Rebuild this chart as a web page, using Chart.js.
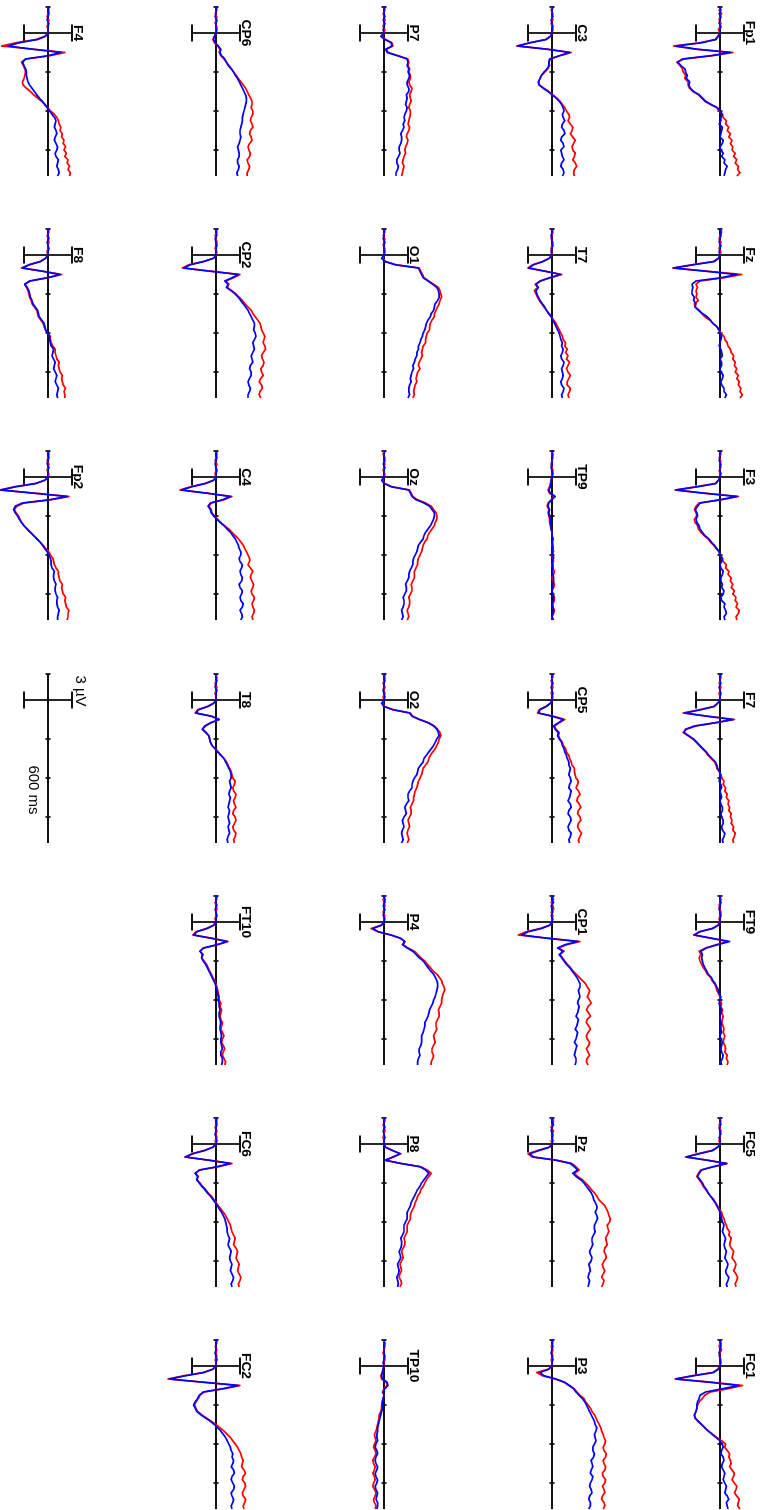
<!DOCTYPE html>
<html>
<head>
<meta charset="utf-8">
<title>ERP topography</title>
<script src="https://cdn.jsdelivr.net/npm/chart.js@4.4.1/dist/chart.umd.min.js"></script>
<style>
  html, body { margin: 0; padding: 0; background: #fff; width: 771px; height: 1510px; overflow: hidden; }
  /* the whole montage is laid out landscape and turned a quarter clockwise */
  #montage { position: absolute; left: 0; top: 0; width: 1510px; height: 771px;
             transform-origin: 0 0; transform: translate(771px, 0) rotate(90deg); }
  #montage canvas { position: absolute; }
</style>
</head>
<body>
<div id="montage"></div>
<script>
// sample times (ms) shared by every trace
const timesMs = [-200,-175,-150,-125,-100,-75,-50,-25,0,25,50,75,100,125,150,175,200,225,250,275,300,
                 325,350,375,400,425,450,475,500,525,550,575,600,625,650,675,700,
                 725,750,775,800,825,850,875,900,925,950,975,1000,1025,1050,1075,1100];
const axisStartMs = -200;
const axisEndMs = 1100;
const timeTicks = [300, 600, 900];
const scaleBarUv = 3;
const scaleTimeMs = 600;

// averaged traces in µV: *Red = condition 1, *Blue = condition 2
const fp1Red  = [0.1,-0.1,0.2,0.0,-0.1,0.1,0.0,-0.2,0.0, -0.3,-0.6,-2.5,-5.8,-3.0,1.6,-1.0,-4.5,-5.4,-5.0,-4.7,-4.6,
  -4.3,-4.4,-4.0,-4.0,-3.8,-3.4,-2.7,-2.3,-1.9,-1.2,-0.4,-0.1,0.3,0.4,0.8,0.7,1.1,0.9,1.3,1.1,1.5,1.3,1.6,1.5,1.9,1.7,2.1,1.9,2.3,2.2,2.5,2.1];
const fp1Blue = [0.0,0.1,-0.1,0.1,0.0,-0.1,0.1,0.0,0.0, -0.2,-0.5,-2.3,-5.5,-2.8,1.3,-1.2,-4.7,-5.3,-4.9,-4.4,-4.3,
  -4.1,-4.2,-3.8,-3.9,-3.7,-3.3,-2.6,-2.2,-1.8,-1.1,-0.3,0.0,0.3,0.1,0.1,-0.1,0.3,0.2,0.1,0.0,0.4,0.3,0.0,0.1,0.4,0.2,0.6,0.5,0.9,0.7,0.6,0.5];
const fzRed   = [0.1,0.2,0.0,-0.1,0.1,0.0,-0.1,0.1,0.0, -0.2,-0.8,-3.5,-5.9,-1.5,2.7,0.5,-2.5,-3.0,-2.8,-3.0,-2.9,
  -3.0,-2.7,-3.2,-3.1,-2.6,-2.3,-1.9,-1.3,-0.9,-0.4,-0.2,0.1,0.5,0.6,0.9,1.0,1.3,1.4,1.7,1.6,1.9,1.8,2.1,1.9,2.3,2.1,2.4,2.3,2.6,2.5,2.8,2.5];
const fzBlue  = [0.0,0.1,0.1,0.0,-0.1,0.1,0.0,-0.1,0.0, -0.2,-0.7,-3.3,-5.8,-1.8,2.1,0.1,-3.0,-3.5,-3.4,-3.5,-3.5,
  -3.2,-3.3,-3.0,-3.1,-2.7,-2.2,-1.6,-1.2,-0.9,-0.4,-0.1,0.0,0.2,0.1,0.0,-0.1,0.1,0.2,0.3,0.0,0.2,0.2,0.0,0.1,0.4,0.3,0.1,0.2,0.5,0.5,0.8,0.6];
const f3Red   = [0.0,0.1,-0.1,0.1,0.0,0.1,-0.1,0.0,0.0, -0.2,-0.6,-3.0,-5.6,-1.8,2.3,0.2,-2.6,-3.0,-3.2,-3.0,-2.9,
  -3.2,-3.1,-2.8,-2.7,-2.4,-2.0,-1.5,-1.2,-0.8,-0.5,-0.1,0.0,0.3,0.4,0.8,0.7,1.1,1.0,1.4,1.3,1.6,1.4,1.8,1.6,2.0,1.9,2.2,2.0,2.4,2.3,2.0,2.1];
const f3Blue  = [0.1,0.0,0.0,-0.1,0.1,0.0,0.0,0.1,0.0, -0.2,-0.5,-2.8,-5.5,-2.0,2.1,0.0,-2.5,-2.8,-3.1,-2.9,-2.8,
  -3.0,-2.9,-2.6,-2.5,-2.2,-1.9,-1.4,-1.1,-0.7,-0.4,-0.1,0.0,0.3,0.2,0.0,0.1,0.4,0.3,0.1,0.1,0.3,0.2,0.5,0.4,0.1,0.2,0.6,0.5,0.7,0.8,0.5,0.6];
const f7Red   = [0.0,0.1,0.0,-0.1,0.1,0.0,-0.1,0.0,0.0, -0.3,-0.8,-2.6,-4.6,-1.5,1.8,-0.5,-3.0,-4.2,-4.6,-4.0,-3.4,
  -3.0,-2.6,-2.2,-1.8,-1.5,-1.1,-0.7,-0.5,-0.4,-0.1,0.1,0.2,0.5,0.4,0.7,0.6,0.9,0.8,1.1,1.0,1.2,1.1,1.4,1.3,1.5,1.4,1.7,1.6,1.9,1.8,1.6,1.7];
const f7Blue  = [0.1,0.0,0.0,0.1,-0.1,0.0,0.1,0.0,0.0, -0.3,-0.7,-2.4,-4.4,-1.6,1.6,-0.6,-3.2,-4.3,-4.5,-3.9,-3.3,
  -2.9,-2.5,-2.1,-1.7,-1.4,-1.0,-0.6,-0.4,-0.3,-0.1,0.1,0.0,-0.1,0.1,0.2,0.0,0.1,0.2,0.0,0.1,0.3,0.3,0.1,0.2,0.4,0.4,0.2,0.3,0.6,0.5,0.3,0.4];
const ft9Red  = [0.0,0.1,0.0,-0.1,0.0,0.1,0.0,-0.1,0.0, -0.3,-1.0,-2.5,-3.3,-1.2,1.0,-0.5,-1.8,-2.6,-2.4,-2.6,-2.5,
  -2.3,-2.1,-1.8,-1.6,-1.2,-1.0,-0.7,-0.5,-0.4,-0.2,0.0,0.0,0.2,0.1,0.3,0.2,0.4,0.3,0.2,0.4,0.5,0.4,0.6,0.5,0.4,0.6,0.7,0.6,0.9,0.8,1.0,0.9];
const ft9Blue = [0.0,0.0,0.1,0.0,-0.1,0.0,0.1,0.0,0.0, -0.2,-0.9,-2.6,-3.2,-1.0,1.2,-0.3,-1.7,-2.4,-2.2,-2.3,-2.2,
  -2.1,-1.9,-1.7,-1.5,-1.1,-0.9,-0.6,-0.4,-0.2,-0.1,0.1,0.0,-0.1,0.0,0.2,0.1,0.0,0.0,0.2,0.1,0.1,0.2,0.0,0.1,0.3,0.2,0.1,0.2,0.4,0.3,0.1,0.2];
const fc5Red  = [0.0,0.1,-0.1,0.0,0.1,0.0,0.0,-0.1,0.0, -0.3,-1.0,-2.8,-4.3,-1.5,0.9,-0.8,-2.4,-2.7,-2.9,-2.6,-2.3,
  -2.1,-1.8,-1.5,-1.2,-0.8,-0.6,-0.3,-0.1,0.2,0.3,0.5,0.6,0.8,0.9,1.2,1.1,1.4,1.3,1.2,1.4,1.7,1.6,1.5,1.8,2.0,1.9,1.7,2.0,2.2,2.1,1.9,2.0];
const fc5Blue = [0.0,0.0,0.1,-0.1,0.0,0.1,-0.1,0.0,0.0, -0.3,-0.9,-2.6,-4.2,-1.6,0.8,-0.9,-2.3,-2.6,-2.8,-2.5,-2.2,
  -2.0,-1.7,-1.5,-1.2,-0.9,-0.6,-0.4,-0.2,0.0,0.1,0.2,0.3,0.5,0.4,0.3,0.5,0.7,0.6,0.5,0.6,0.8,0.7,0.6,0.8,1.0,0.9,0.7,0.8,1.1,1.0,0.8,0.9];
const fc1Red  = [0.1,0.0,-0.1,0.2,0.0,-0.1,0.1,0.0,0.0, -0.3,-0.9,-3.5,-5.6,-1.0,2.8,1.0,-1.2,-1.9,-2.2,-2.6,-2.8,
  -2.9,-3.0,-3.2,-3.1,-2.8,-2.3,-1.9,-1.4,-0.9,-0.4,0.2,0.7,0.6,0.9,1.2,1.1,1.3,1.4,1.2,1.5,1.8,1.7,1.5,1.8,2.1,2.0,1.8,2.1,2.4,2.3,2.2,2.5];
const fc1Blue = [0.0,0.1,0.1,0.0,-0.1,0.0,0.0,0.1,0.0, -0.2,-0.8,-3.3,-5.5,-1.3,2.4,0.3,-1.8,-2.5,-2.6,-2.8,-2.9,
  -2.9,-3.0,-3.2,-3.1,-2.7,-2.3,-1.9,-1.5,-1.0,-0.5,0.0,0.3,0.4,0.2,0.1,0.4,0.5,0.3,0.2,0.4,0.6,0.5,0.4,0.6,0.8,0.7,0.6,0.9,1.1,0.8,0.9,1.0];

const c3Red   = [0.0,-0.1,0.1,0.0,0.1,-0.1,0.0,0.1,0.0, -0.2,-0.8,-2.8,-4.4,-0.5,2.4,1.0,-0.2,-0.4,-0.3,-0.5,-0.9,
  -1.3,-1.5,-1.7,-1.6,-1.0,-0.4,0.1,0.6,1.0,1.3,1.6,1.8,2.1,2.2,2.0,2.3,2.6,2.5,2.3,2.6,2.9,2.7,2.5,2.6,2.9,2.8,2.6,2.9,3.1,2.8,2.7,2.8];
const c3Blue  = [0.1,0.0,0.0,0.1,-0.1,0.0,0.1,0.0,0.0, -0.2,-0.7,-2.7,-4.3,-0.6,2.2,0.9,-0.3,-0.4,-0.4,-0.6,-1.0,
  -1.3,-1.5,-1.7,-1.6,-1.1,-0.5,0.0,0.5,0.9,1.2,1.4,1.5,1.3,1.4,1.6,1.3,1.2,1.5,1.6,1.2,1.1,1.4,1.5,1.1,1.2,1.3,1.5,1.2,1.1,1.4,1.5,1.3];
const t7Red   = [0.0,0.1,0.0,-0.1,0.1,0.0,-0.1,0.0,0.0, -0.4,-1.2,-2.4,-3.0,-0.8,1.2,-0.2,-1.4,-2.1,-1.8,-2.2,-2.0,
  -1.8,-1.6,-1.3,-1.0,-0.7,-0.4,-0.1,0.2,0.5,0.7,0.9,1.1,1.3,1.4,1.7,1.6,1.9,1.7,2.0,1.8,2.2,2.0,1.8,2.0,2.3,2.1,1.9,1.9,2.3,2.2,2.0,2.1];
const t7Blue  = [0.1,0.0,-0.1,0.0,0.0,0.1,0.0,-0.1,0.0, -0.3,-1.1,-2.3,-2.9,-0.9,1.1,-0.3,-1.5,-2.0,-1.7,-2.0,-1.9,
  -1.7,-1.5,-1.2,-0.9,-0.7,-0.4,-0.1,0.1,0.3,0.5,0.7,0.9,1.0,1.1,1.3,1.2,1.4,1.3,1.1,1.2,1.5,1.4,1.2,1.3,1.4,1.3,1.1,1.2,1.5,1.4,1.2,1.3];
const tp9Red  = [0.0,0.0,0.1,0.0,-0.1,0.0,0.1,0.0,0.0, -0.1,-0.2,-0.3,-0.5,-0.3,0.3,-0.1,-0.5,-0.6,-0.4,-0.5,-0.4,
  -0.3,-0.3,-0.2,-0.1,0.0,0.0,0.1,0.1,0.0,0.1,0.2,0.0,0.1,0.2,0.0,0.1,0.3,0.2,0.0,0.1,0.3,0.2,0.0,0.1,0.3,0.3,0.1,0.1,0.3,0.2,0.0,0.1];
const tp9Blue = [0.0,0.1,0.0,0.0,0.0,-0.1,0.0,0.1,0.0, -0.1,-0.1,-0.2,-0.4,-0.2,0.4,0.0,-0.4,-0.5,-0.3,-0.4,-0.3,
  -0.2,-0.2,-0.1,-0.1,0.0,0.0,0.1,0.0,0.1,0.1,0.0,0.1,0.2,0.0,0.1,0.1,0.0,0.1,0.2,0.2,0.1,0.1,0.0,0.1,0.2,0.2,0.0,0.1,0.2,0.1,0.0,0.2];
const cp5Red  = [0.0,0.1,-0.1,0.0,0.1,0.0,-0.1,0.1,0.0, -0.2,-0.8,-1.6,-1.8,0.2,1.6,0.9,0.3,0.5,0.9,0.8,1.0,
  1.3,1.4,1.7,1.8,2.1,2.2,2.4,2.5,2.8,2.8,2.9,3.0,3.3,3.2,3.0,3.3,3.5,3.2,3.1,3.4,3.6,3.3,3.2,3.5,3.6,3.3,3.2,3.4,3.7,3.5,3.3,3.4];
const cp5Blue = [0.1,0.0,0.0,0.1,-0.1,0.0,0.1,0.0,0.0, -0.2,-0.7,-1.5,-1.7,0.0,1.4,0.8,0.2,0.4,0.8,0.7,0.9,
  1.2,1.3,1.5,1.6,1.8,1.9,2.1,2.1,2.3,2.2,2.1,2.3,2.4,2.2,2.1,2.4,2.3,2.2,2.0,2.3,2.4,2.1,2.0,2.3,2.4,2.2,2.0,2.1,2.4,2.3,2.1,2.2];
const cp1Red  = [0.0,0.2,-0.1,0.1,0.2,-0.1,0.1,0.0,0.0, -0.3,-1.5,-3.2,-4.2,-0.5,3.5,1.8,0.8,1.5,1.0,1.3,1.6,
  1.9,2.3,2.6,3.0,3.4,3.8,4.2,4.4,4.7,4.6,4.4,4.7,4.9,4.5,4.3,4.6,4.8,4.4,4.3,4.6,4.8,4.5,4.3,4.4,4.7,4.6,4.3,4.5,4.7,4.4,4.3,4.5];
const cp1Blue = [0.1,0.0,0.2,-0.1,0.0,0.1,-0.1,0.1,0.0, -0.3,-1.3,-3.0,-3.8,-0.6,3.2,1.6,0.7,1.4,0.9,1.2,1.5,
  1.8,2.2,2.5,2.8,3.1,3.3,3.5,3.5,3.3,3.4,3.5,3.3,3.2,3.4,3.3,3.2,3.0,3.3,3.2,3.1,2.9,3.2,3.1,3.0,2.8,3.1,3.0,2.9,2.8,3.0,3.0,2.9];
const pzRed   = [0.0,0.2,0.0,-0.1,0.2,0.0,0.1,-0.1,0.0, -0.4,-1.8,-3.0,-2.5,0.6,2.5,3.0,3.4,2.8,3.2,3.8,4.2,
  4.6,4.9,5.3,5.6,5.8,6.2,6.6,6.8,7.0,7.1,7.3,7.2,6.9,7.0,7.1,6.9,6.7,6.8,6.9,6.6,6.5,6.7,6.8,6.5,6.3,6.4,6.6,6.4,6.2,6.5,6.4,6.2];
const pzBlue  = [0.1,0.0,0.2,0.0,-0.1,0.1,0.0,0.1,0.0, -0.3,-1.6,-2.8,-2.3,0.5,2.3,2.8,3.2,2.6,3.0,3.6,4.0,
  4.3,4.6,4.9,5.1,5.2,5.4,5.6,5.6,5.4,5.6,5.7,5.5,5.3,5.3,5.4,5.2,5.0,5.0,5.1,4.9,4.7,4.8,5.0,4.9,4.6,4.7,4.8,4.6,4.5,4.7,4.6,4.5];
const p3Red   = [0.0,0.1,-0.1,0.1,0.0,0.1,-0.1,0.0,0.0, -0.5,-1.9,-1.2,0.4,1.5,2.1,2.8,3.1,3.5,4.0,4.2,4.5,
  4.8,5.0,5.3,5.5,5.7,5.9,6.1,6.2,6.4,6.5,6.7,6.6,6.4,6.5,6.8,6.7,6.4,6.5,6.7,6.6,6.3,6.4,6.7,6.6,6.3,6.5,6.6,6.3,6.2,6.5,6.6,6.4];
const p3Blue  = [0.1,0.0,0.1,0.0,-0.1,0.0,0.1,0.0,0.0, -0.4,-1.5,-1.0,0.5,1.6,2.2,2.7,3.0,3.4,3.8,4.1,4.3,
  4.5,4.7,4.9,5.1,5.3,5.4,5.6,5.5,5.3,5.4,5.5,5.3,5.1,5.1,5.3,5.2,4.9,5.0,5.1,4.9,4.8,5.1,5.0,4.8,4.7,4.9,5.0,4.7,4.6,4.8,4.8,4.6];

const p7Red   = [0.0,0.1,-0.1,0.0,0.1,0.0,-0.1,0.1,0.0, -0.3,0.2,1.0,1.1,0.3,0.5,1.8,3.0,3.1,3.0,3.2,3.1,
  3.3,3.3,3.1,3.2,3.5,3.4,3.2,3.3,3.4,3.2,3.1,3.3,3.3,3.2,3.1,3.0,3.2,3.1,2.9,2.8,3.0,2.9,2.7,2.6,2.7,2.5,2.4,2.3,2.5,2.4,2.3,2.2];
const p7Blue  = [0.1,0.0,0.0,0.1,-0.1,0.1,0.0,-0.1,0.0, -0.4,0.1,0.9,1.0,0.2,0.4,1.7,2.9,3.0,2.9,3.1,3.0,
  3.2,3.1,2.9,2.9,3.1,3.1,2.8,2.9,2.8,2.7,2.9,2.8,2.6,2.5,2.6,2.4,2.5,2.3,2.1,2.2,2.2,2.1,1.9,1.9,2.0,1.8,1.6,1.6,1.8,1.7,1.5,1.5];
const o1Red   = [0.0,0.1,-0.1,0.1,0.0,-0.1,0.1,0.0,0.0, -0.2,0.2,1.5,4.4,4.6,4.8,5.0,5.6,6.2,6.8,7.0,7.1,
  7.2,7.0,6.9,6.7,6.5,6.3,6.3,6.0,5.8,5.7,5.7,5.4,5.3,5.2,5.2,4.9,4.8,4.7,4.8,4.6,4.4,4.3,4.5,4.2,4.1,4.0,4.1,3.9,3.8,3.7,3.8,3.6];
const o1Blue  = [0.1,0.0,0.0,-0.1,0.1,0.0,0.0,0.1,0.0, -0.3,0.1,1.4,4.3,4.5,4.7,4.9,5.5,6.1,6.6,6.8,6.9,
  6.9,6.7,6.4,6.3,6.2,5.9,5.8,5.5,5.3,5.2,5.1,4.9,4.8,4.6,4.5,4.3,4.3,4.1,4.1,3.9,3.8,3.6,3.7,3.5,3.4,3.3,3.4,3.2,3.1,3.1,3.2,3.0];
const ozRed   = [0.0,-0.1,0.1,0.0,0.1,0.0,-0.1,0.1,0.0, -0.2,0.1,1.0,3.2,3.4,3.6,4.2,5.2,5.9,6.2,6.5,6.6,
  6.6,6.4,6.3,6.0,5.7,5.5,5.4,5.1,4.9,4.8,4.7,4.5,4.3,4.2,4.2,4.0,3.8,3.8,3.8,3.6,3.4,3.5,3.5,3.3,3.1,3.2,3.2,3.1,2.9,3.0,3.1,2.9];
const ozBlue  = [0.1,0.0,0.0,0.1,-0.1,0.1,0.0,0.0,0.0, -0.3,0.0,0.9,3.1,3.3,3.5,4.0,5.0,5.7,6.0,6.3,6.3,
  6.2,6.0,5.8,5.5,5.2,5.0,4.9,4.6,4.3,4.2,4.1,3.9,3.7,3.6,3.6,3.4,3.2,3.1,3.1,2.9,2.7,2.8,2.8,2.6,2.4,2.5,2.5,2.4,2.2,2.3,2.4,2.2];
const o2Red   = [0.0,0.1,0.0,-0.1,0.1,0.0,0.1,-0.1,0.0, -0.2,0.1,1.2,3.3,3.6,4.5,5.6,6.3,6.7,7.0,7.1,6.9,
  6.8,6.6,6.4,6.1,5.8,5.6,5.5,5.2,4.9,4.8,4.7,4.5,4.3,4.2,4.1,3.9,3.8,3.7,3.7,3.5,3.3,3.4,3.4,3.2,3.0,3.1,3.2,3.0,2.9,3.0,3.1,2.9];
const o2Blue  = [0.1,0.0,0.1,0.0,0.0,-0.1,0.0,0.1,0.0, -0.3,0.0,1.1,3.2,3.5,4.4,5.5,6.2,6.6,6.8,6.9,6.6,
  6.4,6.2,5.9,5.6,5.3,5.0,4.9,4.6,4.3,4.2,4.1,3.8,3.6,3.5,3.5,3.2,3.0,3.0,3.1,2.8,2.6,2.7,2.8,2.5,2.3,2.4,2.5,2.3,2.2,2.3,2.4,2.2];
const p4Red   = [0.1,-0.1,0.0,0.1,0.0,-0.1,0.1,0.0,0.0, -0.4,-1.6,-0.8,0.8,2.0,2.6,2.4,3.0,3.8,4.2,4.6,5.1,
  5.4,5.8,6.1,6.6,6.9,7.2,7.3,7.5,7.6,7.4,7.3,7.2,7.2,7.0,6.8,6.9,6.9,6.7,6.5,6.5,6.6,6.4,6.2,6.3,6.4,6.2,6.0,6.0,6.2,6.1,5.9,5.9];
const p4Blue  = [0.0,0.1,0.1,-0.1,0.1,0.0,-0.1,0.1,0.0, -0.3,-1.4,-0.7,0.9,2.1,2.6,2.3,2.9,3.6,4.0,4.4,4.9,
  5.2,5.5,5.8,6.2,6.4,6.6,6.7,6.7,6.6,6.5,6.4,6.2,6.1,5.9,5.7,5.6,5.5,5.3,5.1,5.1,5.0,4.9,4.7,4.7,4.7,4.6,4.4,4.4,4.5,4.3,4.2,4.2];
const p8Red   = [0.0,0.1,-0.1,0.0,0.1,0.0,-0.1,0.0,0.0, 0.2,1.0,2.1,1.2,0.2,2.2,4.6,5.4,5.9,5.6,5.3,5.1,
  4.9,4.6,4.5,4.2,4.1,3.9,3.8,3.6,3.4,3.3,3.3,3.1,2.9,2.9,2.9,2.7,2.5,2.6,2.6,2.4,2.2,2.3,2.4,2.2,2.0,2.1,2.2,2.0,1.9,2.1,2.2,2.0];
const p8Blue  = [0.1,0.0,0.0,0.1,-0.1,0.0,0.1,0.0,0.0, 0.2,1.1,2.0,1.1,0.1,2.1,4.5,5.2,5.6,5.3,5.0,4.7,
  4.5,4.2,4.0,3.8,3.6,3.4,3.3,3.1,2.9,2.9,2.9,2.7,2.5,2.5,2.5,2.3,2.1,2.2,2.2,2.1,1.9,2.0,2.1,1.9,1.7,1.8,1.9,1.8,1.6,1.7,1.8,1.7];
const tp10Red = [0.0,0.0,0.1,0.0,-0.1,0.0,0.1,0.0,0.0, -0.1,-0.2,-0.4,-0.3,0.3,0.4,0.0,-0.2,0.0,-0.1,-0.2,-0.3,
  -0.3,-0.4,-0.6,-0.6,-0.7,-0.8,-0.9,-1.0,-1.2,-1.1,-1.0,-1.2,-1.3,-1.1,-1.0,-1.2,-1.4,-1.3,-1.1,-1.2,-1.4,-1.2,-1.1,-1.3,-1.4,-1.2,-1.0,-1.1,-1.3,-1.2,-1.0,-1.1];
const tp10Blue= [0.0,0.1,0.0,0.0,0.0,0.1,0.0,-0.1,0.0, -0.1,-0.2,-0.3,-0.2,0.4,0.5,0.1,-0.1,0.0,-0.1,-0.2,-0.2,
  -0.2,-0.3,-0.4,-0.5,-0.6,-0.7,-0.8,-0.8,-0.9,-0.9,-0.8,-1.0,-1.1,-0.9,-0.8,-1.0,-1.1,-1.0,-0.8,-0.9,-1.1,-1.0,-0.8,-0.9,-1.1,-1.0,-0.8,-0.9,-1.0,-0.8,-0.8,-0.9];

const cp6Red  = [0.0,0.1,-0.1,0.1,0.0,-0.1,0.1,0.0,0.0, -0.2,-0.4,-0.2,0.2,0.5,0.4,0.6,1.0,1.3,1.5,1.9,2.2,
  2.5,2.8,3.1,3.4,3.7,3.9,4.1,4.3,4.5,4.5,4.4,4.6,4.6,4.4,4.3,4.5,4.6,4.3,4.2,4.4,4.5,4.2,4.0,4.1,4.3,4.2,3.9,4.0,4.2,4.1,3.9,3.9];
const cp6Blue = [0.1,0.0,0.0,-0.1,0.1,0.0,0.0,0.1,0.0, -0.2,-0.3,-0.1,0.3,0.6,0.5,0.7,1.1,1.3,1.6,1.9,2.2,
  2.4,2.7,2.9,3.1,3.3,3.5,3.7,3.8,3.8,3.7,3.6,3.5,3.4,3.3,3.3,3.2,3.1,3.0,3.0,3.1,3.0,2.9,2.7,2.8,2.9,2.9,2.7,2.7,2.9,2.8,2.6,2.7];
const cp2Red  = [0.0,0.1,-0.1,0.0,0.1,0.0,-0.1,0.1,0.0, -0.3,-1.6,-3.4,-4.2,-0.6,3.0,2.2,1.2,1.6,1.4,2.0,2.5,
  2.9,3.3,3.6,4.0,4.4,4.6,4.9,5.2,5.5,5.6,5.7,5.9,6.1,6.0,5.9,6.1,6.2,5.9,5.7,5.8,6.0,5.9,5.6,5.7,5.9,5.6,5.4,5.7,5.8,5.5,5.4,5.6];
const cp2Blue = [0.1,0.0,0.1,-0.1,0.0,0.1,0.0,0.0,0.0, -0.3,-1.5,-3.2,-4.0,-0.7,2.8,2.0,1.1,1.5,1.3,1.9,2.4,
  2.8,3.1,3.4,3.7,4.0,4.2,4.4,4.6,4.8,4.8,4.7,4.9,5.0,4.8,4.6,4.7,4.8,4.6,4.4,4.5,4.6,4.3,4.2,4.4,4.4,4.2,4.0,4.1,4.3,4.2,4.0,4.0];
const c4Red   = [0.0,0.1,0.0,-0.1,0.1,0.0,0.0,-0.1,0.0, -0.3,-1.4,-3.2,-4.5,-1.0,2.0,1.0,-0.6,-0.9,-0.6,-0.5,-0.2,
  0.2,0.6,1.1,1.6,2.0,2.4,2.8,3.1,3.4,3.6,3.8,4.0,4.2,4.2,4.0,4.3,4.6,4.4,4.3,4.5,4.7,4.6,4.4,4.5,4.8,4.7,4.5,4.6,4.8,4.7,4.5,4.6];
const c4Blue  = [0.1,0.0,0.1,0.0,-0.1,0.0,0.1,0.0,0.0, -0.3,-1.3,-3.0,-4.3,-1.1,1.8,0.8,-0.7,-1.0,-0.7,-0.6,-0.3,
  0.1,0.5,1.0,1.4,1.8,2.1,2.4,2.6,2.8,2.9,3.1,3.1,2.9,3.0,3.3,3.2,3.0,3.1,3.3,3.2,2.9,3.0,3.3,3.2,3.0,3.1,3.4,3.3,3.0,3.2,3.3,3.1];
const t8Red   = [0.0,0.1,0.0,-0.1,0.1,0.0,-0.1,0.0,0.0, -0.3,-1.1,-2.3,-2.6,-0.5,0.4,-0.6,-1.3,-1.7,-1.2,-0.9,-0.8,
  -0.7,-0.5,-0.1,0.3,0.6,1.0,1.3,1.5,1.7,1.9,2.0,2.1,2.4,2.3,2.1,2.2,2.5,2.4,2.2,2.3,2.5,2.2,2.1,2.4,2.5,2.3,2.1,2.2,2.5,2.4,2.2,2.3];
const t8Blue  = [0.0,0.0,0.1,0.0,-0.1,0.1,0.0,0.0,0.0, -0.3,-1.0,-2.2,-2.5,-0.6,0.4,-0.7,-1.4,-1.7,-1.3,-0.9,-0.8,
  -0.7,-0.5,-0.1,0.2,0.6,1.0,1.2,1.4,1.6,1.8,1.9,1.9,1.7,1.8,1.9,1.7,1.6,1.8,1.7,1.6,1.5,1.7,1.6,1.5,1.6,1.7,1.5,1.6,1.7,1.5,1.4,1.5];
const ft10Red = [0.0,0.1,-0.1,0.0,0.1,0.0,0.0,-0.1,0.0, -0.3,-1.2,-2.5,-2.9,-0.5,1.5,0.2,-1.5,-2.0,-1.6,-1.8,-1.5,
  -1.2,-1.0,-0.8,-0.6,-0.4,-0.2,0.0,0.1,0.2,0.3,0.4,0.4,0.6,0.5,0.7,0.6,0.5,0.6,0.8,0.7,0.6,0.8,1.0,0.8,0.7,0.9,1.1,0.9,0.8,1.0,1.2,1.1];
const ft10Blue= [0.1,0.0,0.0,0.1,-0.1,0.0,0.1,0.0,0.0, -0.3,-1.1,-2.4,-2.8,-0.6,1.4,0.1,-1.6,-2.0,-1.7,-1.8,-1.6,
  -1.3,-1.1,-0.9,-0.7,-0.5,-0.3,-0.1,0.0,0.1,0.2,0.3,0.3,0.4,0.4,0.5,0.4,0.4,0.5,0.6,0.5,0.5,0.6,0.7,0.6,0.6,0.7,0.8,0.6,0.6,0.8,0.8,0.7];
const fc6Red  = [0.0,0.1,0.0,-0.1,0.1,0.0,0.1,-0.1,0.0, -0.4,-1.5,-3.0,-3.9,-0.8,2.0,0.3,-2.0,-2.6,-2.2,-2.4,-2.0,
  -1.7,-1.3,-1.0,-0.6,-0.3,0.0,0.3,0.6,0.9,1.2,1.4,1.6,1.8,1.9,2.0,2.2,2.4,2.3,2.2,2.5,2.7,2.6,2.5,2.7,2.9,2.8,2.7,2.9,3.1,3.0,2.8,2.9];
const fc6Blue = [0.1,0.0,0.1,0.0,0.0,-0.1,0.0,0.1,0.0, -0.4,-1.4,-2.9,-3.8,-0.9,1.8,0.1,-2.1,-2.6,-2.3,-2.4,-2.1,
  -1.8,-1.4,-1.1,-0.7,-0.4,-0.1,0.2,0.4,0.7,0.9,1.1,1.2,1.3,1.4,1.4,1.5,1.7,1.6,1.5,1.7,1.9,1.8,1.7,1.8,2.0,1.9,1.8,2.0,2.2,2.1,1.9,2.0];
const fc2Red  = [0.0,0.1,-0.1,0.1,0.0,0.1,-0.1,0.0,0.0, -0.4,-1.6,-4.0,-6.0,-1.5,3.0,1.0,-1.5,-2.0,-2.2,-2.5,-2.7,
  -2.5,-2.3,-1.8,-1.2,-0.6,0.0,0.5,1.0,1.4,1.8,2.1,2.4,2.7,2.9,3.1,3.2,3.4,3.3,3.2,3.5,3.7,3.4,3.3,3.6,3.7,3.5,3.3,3.4,3.7,3.6,3.4,3.5];
const fc2Blue = [0.1,0.0,0.0,0.0,-0.1,0.0,0.1,0.0,0.0, -0.4,-1.5,-3.8,-5.8,-1.6,2.8,0.8,-1.6,-2.1,-2.3,-2.6,-2.8,
  -2.6,-2.4,-1.9,-1.3,-0.7,-0.2,0.2,0.6,0.9,1.2,1.4,1.6,1.8,1.9,2.1,2.0,2.2,2.1,1.9,2.2,2.3,2.0,1.9,2.1,2.3,2.2,1.9,2.0,2.2,2.1,1.9,2.0];

const f4Red   = [0.0,0.1,0.0,-0.1,0.1,0.0,-0.1,0.0,0.0, -0.4,-1.5,-4.0,-5.8,-1.8,2.1,0.2,-2.8,-3.3,-3.1,-2.9,-2.8,
  -2.9,-3.0,-3.2,-3.1,-2.7,-2.2,-1.8,-1.3,-0.8,-0.4,0.0,0.3,0.8,1.1,1.3,1.4,1.6,1.5,1.8,1.7,2.0,1.9,2.2,2.0,2.3,2.1,2.5,2.4,2.7,2.5,2.8,2.7];
const f4Blue  = [0.1,0.0,0.1,0.0,-0.1,0.1,0.0,0.0,0.0, -0.3,-1.3,-3.6,-5.0,-1.9,1.6,0.0,-2.8,-3.2,-3.0,-2.8,-2.7,
  -2.7,-2.6,-2.5,-2.3,-2.0,-1.7,-1.4,-1.1,-0.7,-0.4,-0.1,0.2,0.5,0.8,1.0,0.9,0.8,1.0,1.1,0.9,0.8,1.0,1.2,1.1,0.9,1.0,1.3,1.2,1.1,1.3,1.4,1.2];
const f8Red   = [0.0,0.1,-0.1,0.0,0.1,0.0,0.0,-0.1,0.0, -0.3,-1.0,-2.4,-3.3,-0.6,1.7,0.0,-2.2,-2.9,-2.7,-2.5,-2.4,
  -2.3,-2.1,-2.0,-1.7,-1.4,-1.3,-1.2,-0.9,-0.6,-0.5,-0.3,-0.1,0.3,0.3,0.4,0.6,0.9,0.9,1.0,1.1,1.4,1.3,1.4,1.5,1.8,1.7,1.8,1.9,2.2,2.0,2.1,2.1];
const f8Blue  = [0.1,0.0,0.0,0.1,-0.1,0.0,0.1,0.0,0.0, -0.3,-0.9,-2.3,-3.2,-0.7,1.5,-0.1,-2.3,-2.9,-2.6,-2.4,-2.3,
  -2.2,-2.0,-1.9,-1.6,-1.3,-1.2,-1.1,-0.8,-0.5,-0.4,-0.3,-0.1,0.2,0.2,0.3,0.4,0.7,0.6,0.5,0.7,0.9,0.8,0.7,0.9,1.1,1.0,0.9,1.1,1.3,1.2,1.1,1.2];
const fp2Red  = [0.0,0.1,0.0,-0.1,0.1,0.0,-0.1,0.1,0.0, -0.4,-1.6,-4.2,-6.0,-1.5,2.6,0.4,-3.0,-3.9,-4.2,-4.0,-3.7,
  -3.5,-3.3,-3.0,-2.6,-2.2,-1.8,-1.4,-1.0,-0.6,-0.3,0.1,0.3,0.6,0.7,0.8,1.0,1.3,1.3,1.4,1.5,1.8,1.7,1.8,1.9,2.2,2.1,2.2,2.3,2.6,2.5,2.5,2.4];
const fp2Blue = [0.1,0.0,0.1,0.0,-0.1,0.1,0.0,0.0,0.0, -0.4,-1.5,-4.0,-5.9,-1.7,2.4,0.2,-3.2,-4.1,-4.3,-4.1,-3.8,
  -3.6,-3.3,-3.0,-2.6,-2.2,-1.8,-1.4,-1.0,-0.7,-0.4,-0.1,0.1,0.3,0.4,0.4,0.5,0.8,0.7,0.7,0.8,1.0,0.9,0.9,1.0,1.2,1.1,1.1,1.2,1.4,1.3,1.2,1.2];

// montage order, one list per row; null marks the scale-bar cell
const gridRows = [
  ['Fp1', 'Fz', 'F3', 'F7', 'FT9', 'FC5', 'FC1'],
  ['C3', 'T7', 'TP9', 'CP5', 'CP1', 'Pz', 'P3'],
  ['P7', 'O1', 'Oz', 'O2', 'P4', 'P8', 'TP10'],
  ['CP6', 'CP2', 'C4', 'T8', 'FT10', 'FC6', 'FC2'],
  ['F4', 'F8', 'Fp2', null]
];

const traces = {
  Fp1: [fp1Red, fp1Blue], Fz: [fzRed, fzBlue], F3: [f3Red, f3Blue], F7: [f7Red, f7Blue],
  FT9: [ft9Red, ft9Blue], FC5: [fc5Red, fc5Blue], FC1: [fc1Red, fc1Blue],
  C3: [c3Red, c3Blue], T7: [t7Red, t7Blue], TP9: [tp9Red, tp9Blue], CP5: [cp5Red, cp5Blue],
  CP1: [cp1Red, cp1Blue], Pz: [pzRed, pzBlue], P3: [p3Red, p3Blue],
  P7: [p7Red, p7Blue], O1: [o1Red, o1Blue], Oz: [ozRed, ozBlue], O2: [o2Red, o2Blue],
  P4: [p4Red, p4Blue], P8: [p8Red, p8Blue], TP10: [tp10Red, tp10Blue],
  CP6: [cp6Red, cp6Blue], CP2: [cp2Red, cp2Blue], C4: [c4Red, c4Blue], T8: [t8Red, t8Blue],
  FT10: [ft10Red, ft10Blue], FC6: [fc6Red, fc6Blue], FC2: [fc2Red, fc2Blue],
  F4: [f4Red, f4Blue], F8: [f8Red, f8Blue], Fp2: [fp2Red, fp2Blue]
};

// cell geometry (landscape layout, before the rotation)
const CELL_W = 222, CELL_H = 168;
const COL_STEP = 222.2, ROW_STEP = 167.9;
const FIRST_AXIS_Y = 51;
const ZERO_X = 33;           // where t = 0 sits inside a cell
const PX_PER_MS = 0.13;
const PX_PER_UV = 8;
const AXIS_COLOR = '#111';

// draws the time axis, the µV bar at t = 0 and the channel name
const panelAxes = {
  id: 'panelAxes',
  beforeDatasetsDraw(chart, args, opts) {
    const { ctx, scales: { x, y } } = chart;
    const zx = x.getPixelForValue(0);
    const zy = y.getPixelForValue(0);
    const top = y.getPixelForValue(scaleBarUv);
    const bot = y.getPixelForValue(-scaleBarUv);
    const cap = 8.5;
    ctx.save();
    ctx.strokeStyle = AXIS_COLOR;
    ctx.lineWidth = 1.8;
    ctx.beginPath();
    ctx.moveTo(x.getPixelForValue(axisStartMs), zy);
    ctx.lineTo(x.getPixelForValue(axisEndMs), zy);
    ctx.moveTo(zx, top); ctx.lineTo(zx, bot);
    ctx.moveTo(zx - cap, top); ctx.lineTo(zx + cap, top);
    ctx.moveTo(zx - cap, bot); ctx.lineTo(zx + cap, bot);
    [axisStartMs, ...timeTicks].forEach(t => {
      const px = x.getPixelForValue(t);
      ctx.moveTo(px, zy - 2.5); ctx.lineTo(px, zy + 2.5);
    });
    ctx.stroke();
    ctx.restore();
  },
  afterDatasetsDraw(chart, args, opts) {
    const { ctx, scales: { x, y } } = chart;
    const zx = x.getPixelForValue(0);
    const top = y.getPixelForValue(scaleBarUv);
    ctx.save();
    ctx.fillStyle = '#000';
    ctx.textBaseline = 'alphabetic';
    if (opts.label) {
      ctx.font = 'bold 12px "Liberation Sans", Arial, sans-serif';
      ctx.textAlign = 'center';
      ctx.translate(zx, top - 2);
      ctx.scale(1.15, 1);
      ctx.fillText(opts.label, 0, 0);
    } else {
      ctx.font = '15px "Liberation Sans", Arial, sans-serif';
      ctx.textAlign = 'center';
      ctx.fillText(scaleBarUv + ' \u00b5V', zx - 9, top - 4);
      ctx.fillText(scaleTimeMs + ' ms', x.getPixelForValue(scaleTimeMs) + 12, y.getPixelForValue(0) + 19);
    }
    ctx.restore();
  }
};

function traceDataset(values, color) {
  return {
    data: timesMs.map((t, i) => ({ x: t, y: values[i] })),
    borderColor: color,
    borderWidth: 1.7,
    borderJoinStyle: 'round',
    pointRadius: 0,
    tension: 0,
    fill: false
  };
}

const montage = document.getElementById('montage');

gridRows.forEach((row, r) => {
  row.forEach((name, c) => {
    const canvas = document.createElement('canvas');
    canvas.width = CELL_W;
    canvas.height = CELL_H;
    canvas.style.left = Math.round(c * COL_STEP) + 'px';
    canvas.style.top = Math.round(FIRST_AXIS_Y + r * ROW_STEP - CELL_H / 2) + 'px';
    montage.appendChild(canvas);

    const pair = name ? traces[name] : null;
    // blue listed first so it is painted over the red trace
    const datasets = pair ? [traceDataset(pair[1], '#0000ff'), traceDataset(pair[0], '#ff0000')] : [];

    new Chart(canvas, {
      type: 'line',
      data: { datasets },
      options: {
        responsive: false,
        animation: false,
        devicePixelRatio: 1,
        events: [],
        layout: { padding: 0 },
        scales: {
          x: { type: 'linear', display: false, min: -ZERO_X / PX_PER_MS, max: (CELL_W - ZERO_X) / PX_PER_MS },
          y: { type: 'linear', display: false, min: -CELL_H / 2 / PX_PER_UV, max: CELL_H / 2 / PX_PER_UV }
        },
        plugins: {
          legend: { display: false },
          tooltip: { enabled: false },
          panelAxes: { label: name }
        }
      },
      plugins: [panelAxes]
    });
  });
});
</script>
</body>
</html>
